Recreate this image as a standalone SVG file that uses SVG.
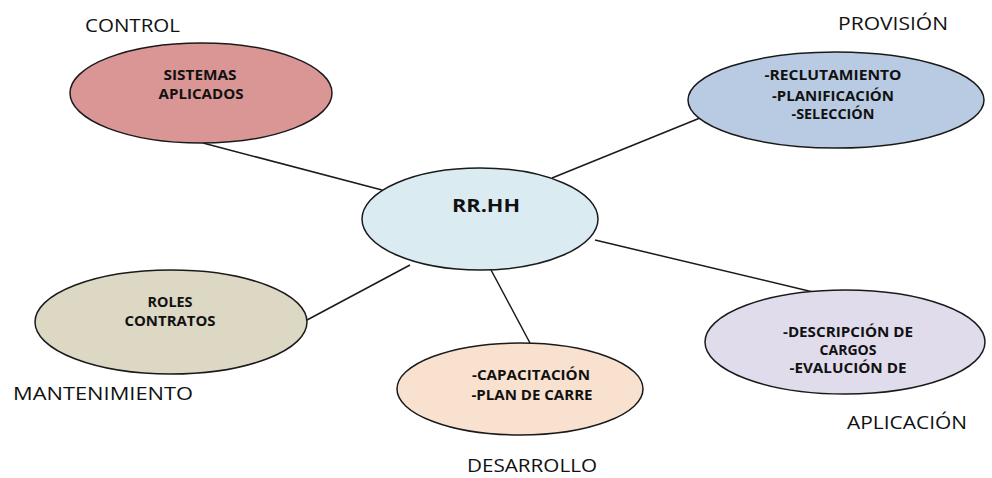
<svg xmlns="http://www.w3.org/2000/svg" width="992" height="478" viewBox="0 0 992 478">
<style>
.n{stroke:#1a1a1a;stroke-width:1.5}
.t{font-family:"Open Sans","Liberation Sans",sans-serif;font-weight:bold;font-size:14.5px;fill:#111;text-anchor:middle}
.c{font-family:"Open Sans","Liberation Sans",sans-serif;font-weight:bold;font-size:18px;fill:#111;text-anchor:middle}
.l{font-family:"Open Sans","Liberation Sans",sans-serif;font-size:19px;fill:#111}
.e{stroke:#1a1a1a;stroke-width:1.5;fill:none}
</style>
<rect width="992" height="478" fill="#fff"/>
<g id="connectors">
<line class="e" x1="203" y1="143" x2="382" y2="190"/>
<line class="e" x1="552" y1="178" x2="700" y2="118"/>
<line class="e" x1="595" y1="240" x2="813" y2="292"/>
<line class="e" x1="490" y1="268" x2="530" y2="343"/>
<line class="e" x1="410" y1="265" x2="307" y2="320"/>
</g>
<g id="rrhh">
<ellipse class="n" cx="480" cy="219" rx="118" ry="51" fill="#dbebf2"/>
<text class="c" x="486" y="212" textLength="68" lengthAdjust="spacingAndGlyphs">RR.HH</text>
</g>
<g id="control">
<ellipse class="n" cx="201" cy="93" rx="131" ry="50" fill="#d99694"/>
<text class="t" x="200" y="80" textLength="73" lengthAdjust="spacingAndGlyphs">SISTEMAS</text>
<text class="t" x="201" y="99" textLength="85" lengthAdjust="spacingAndGlyphs">APLICADOS</text>
<text class="l" x="85" y="32" textLength="95" lengthAdjust="spacingAndGlyphs">CONTROL</text>
</g>
<g id="provision">
<ellipse class="n" cx="836" cy="100" rx="148" ry="48" fill="#b9cbe2"/>
<text class="t" x="833" y="80" textLength="137" lengthAdjust="spacingAndGlyphs">-RECLUTAMIENTO</text>
<text class="t" x="833" y="101" textLength="122" lengthAdjust="spacingAndGlyphs">-PLANIFICACIÓN</text>
<text class="t" x="833" y="119" textLength="83" lengthAdjust="spacingAndGlyphs">-SELECCIÓN</text>
<text class="l" x="838" y="30" textLength="110" lengthAdjust="spacingAndGlyphs">PROVISIÓN</text>
</g>
<g id="mantenimiento">
<ellipse class="n" cx="171" cy="322" rx="136" ry="52" fill="#ddd8c4"/>
<text class="t" x="170" y="307" textLength="45" lengthAdjust="spacingAndGlyphs">ROLES</text>
<text class="t" x="170" y="326" textLength="91" lengthAdjust="spacingAndGlyphs">CONTRATOS</text>
<text class="l" x="13" y="400" textLength="180" lengthAdjust="spacingAndGlyphs">MANTENIMIENTO</text>
</g>
<g id="desarrollo">
<ellipse class="n" cx="520" cy="389" rx="123" ry="46" fill="#f9e1d0"/>
<text class="t" x="531" y="380" textLength="118" lengthAdjust="spacingAndGlyphs">-CAPACITACIÓN</text>
<text class="t" x="532" y="400" textLength="121" lengthAdjust="spacingAndGlyphs">-PLAN DE CARRE</text>
<text class="l" x="467" y="472" textLength="130" lengthAdjust="spacingAndGlyphs">DESARROLLO</text>
</g>
<g id="aplicacion">
<ellipse class="n" cx="845" cy="342" rx="140" ry="52" fill="#e0dcec"/>
<text class="t" x="848" y="337" textLength="130" lengthAdjust="spacingAndGlyphs">-DESCRIPCIÓN DE</text>
<text class="t" x="848" y="355" textLength="57" lengthAdjust="spacingAndGlyphs">CARGOS</text>
<text class="t" x="848" y="373" textLength="117" lengthAdjust="spacingAndGlyphs">-EVALUCIÓN DE</text>
<text class="l" x="847" y="429" textLength="120" lengthAdjust="spacingAndGlyphs">APLICACIÓN</text>
</g>
</svg>
